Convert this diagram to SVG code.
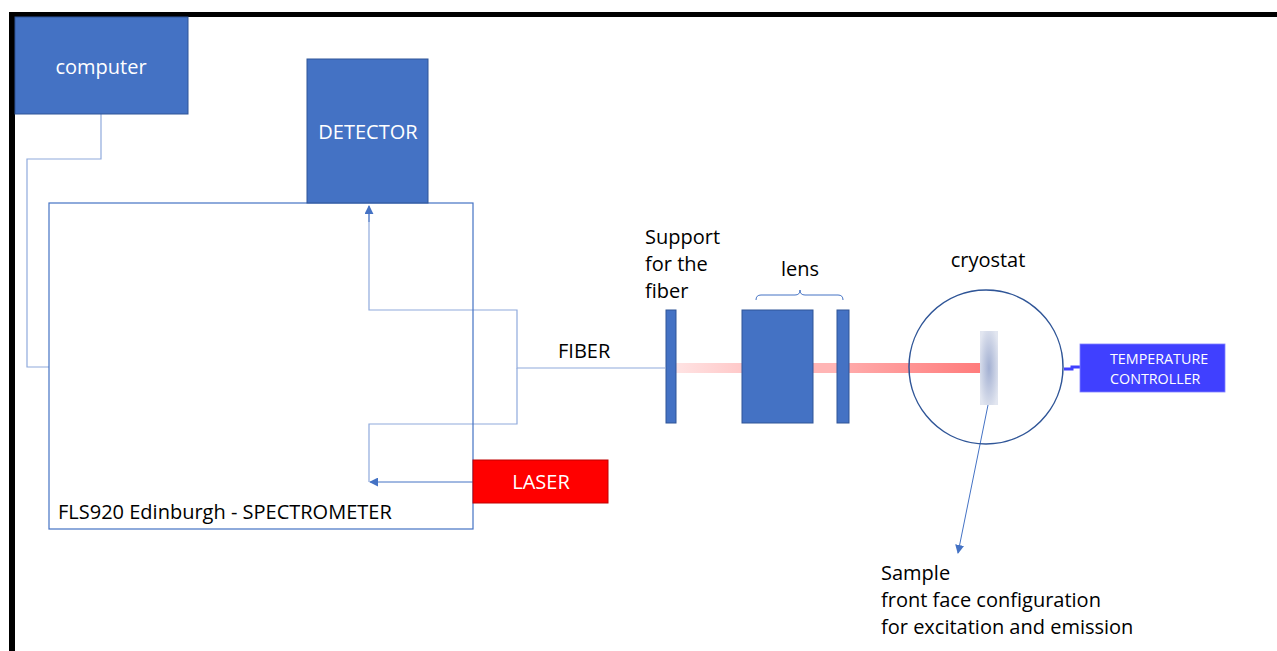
<svg xmlns="http://www.w3.org/2000/svg" width="1277" height="651" viewBox="0 0 1277 651">
<defs>
<style>
text{font-family:"Open Sans","Noto Sans","Liberation Sans",sans-serif;}
.lbl{font-size:20px;fill:#000;}
.wt{font-size:20px;fill:#fff;}
.box{fill:#4472C4;stroke:#2F5597;stroke-width:1;}
.conn{fill:none;stroke:#8FAADC;stroke-width:1.2;}
.arr{fill:none;stroke:#4472C4;stroke-width:1;}
</style>
<marker id="ah" viewBox="0 0 10 10" refX="9" refY="5" markerWidth="9" markerHeight="9" markerUnits="userSpaceOnUse" orient="auto">
<path d="M0,0 L10,5 L0,10 z" fill="#4472C4"/>
</marker>
<linearGradient id="b1" x1="0" x2="1" y1="0" y2="0"><stop offset="0" stop-color="#FFE3E3"/><stop offset="1" stop-color="#FFC9C9"/></linearGradient>
<linearGradient id="b2" x1="0" x2="1" y1="0" y2="0"><stop offset="0" stop-color="#FFA9A9"/><stop offset="1" stop-color="#FF7C7C"/></linearGradient>
<radialGradient id="smp" cx="0.5" cy="0.5" r="0.6"><stop offset="0" stop-color="#A3B0D2"/><stop offset="1" stop-color="#E2E6F0"/></radialGradient>
</defs>
<rect x="0" y="0" width="1277" height="651" fill="#fff"/>
<g id="frame">
<rect x="9" y="12" width="1268" height="5" fill="#000"/>
<rect x="9" y="12" width="6" height="639" fill="#000"/>
</g>
<g id="connectors">
<path class="conn" d="M101,114 V159 H27 V367 H49"/>
<path class="conn" d="M665,368 H517 V310 H369 V212"/>
<path class="arr" d="M369,222 V206" marker-end="url(#ah)"/>
<path class="conn" d="M517,368 V424 H369 V482"/>
<path class="arr" d="M473,482 H370" marker-end="url(#ah)"/>
<path class="arr" d="M988,405 L958,553" marker-end="url(#ah)"/>
<path d="M1064,369 H1072 V367 H1081" fill="none" stroke="#4040FF" stroke-width="3"/>
</g>
<g id="spectrometer">
<rect x="49" y="203" width="424" height="326" fill="none" stroke="#4472C4" stroke-width="1.2"/>
<text class="lbl" x="58" y="519">FLS920 Edinburgh - SPECTROMETER</text>
</g>
<g id="computer">
<rect class="box" x="15" y="17" width="173" height="97"/>
<text class="wt" x="101" y="74" text-anchor="middle">computer</text>
</g>
<g id="detector">
<rect class="box" x="307" y="59" width="121" height="144"/>
<text class="wt" x="368" y="139" text-anchor="middle">DETECTOR</text>
</g>
<g id="laser">
<rect x="473" y="460" width="135" height="43" fill="#FF0000" stroke="#C00000" stroke-width="1"/>
<text class="wt" x="541" y="489" text-anchor="middle">LASER</text>
</g>
<g id="fiber-label">
<text class="lbl" x="558" y="358">FIBER</text>
</g>
<g id="beam">
<rect x="676" y="363" width="66" height="10" fill="url(#b1)"/>
<rect x="813" y="363" width="24" height="10" fill="#FFB5B5"/>
<rect x="849" y="363" width="131" height="10" fill="url(#b2)"/>
</g>
<g id="support">
<rect class="box" x="666" y="310" width="10" height="113"/>
<text class="lbl" x="645" y="244">Support</text>
<text class="lbl" x="645" y="271">for the</text>
<text class="lbl" x="645" y="298">fiber</text>
</g>
<g id="lens">
<rect class="box" x="742" y="310" width="71" height="113"/>
<rect class="box" x="837" y="310" width="12" height="113"/>
<path d="M756,300 Q756,295 761,295 H795 Q800,295 800,290 Q800,295 805,295 H838 Q843,295 843,300" fill="none" stroke="#4472C4" stroke-width="1"/>
<text class="lbl" x="800" y="276" text-anchor="middle">lens</text>
</g>
<g id="cryostat">
<circle cx="986" cy="367" r="77" fill="none" stroke="#2F5597" stroke-width="1.5"/>
<rect x="980" y="331" width="18" height="74" fill="url(#smp)"/>
<text class="lbl" x="988" y="267" text-anchor="middle">cryostat</text>
</g>
<g id="temperature-controller">
<rect x="1080" y="344" width="145" height="48" fill="#4040FF" stroke="#8080FF" stroke-width="0.8"/>
<text x="1110" y="364" font-size="14.3" fill="#fff">TEMPERATURE</text>
<text x="1110" y="384" font-size="14.3" fill="#fff">CONTROLLER</text>
</g>
<g id="sample-label">
<text class="lbl" x="881" y="580">Sample</text>
<text class="lbl" x="881" y="607">front face configuration</text>
<text class="lbl" x="881" y="634">for excitation and emission</text>
</g>
</svg>
